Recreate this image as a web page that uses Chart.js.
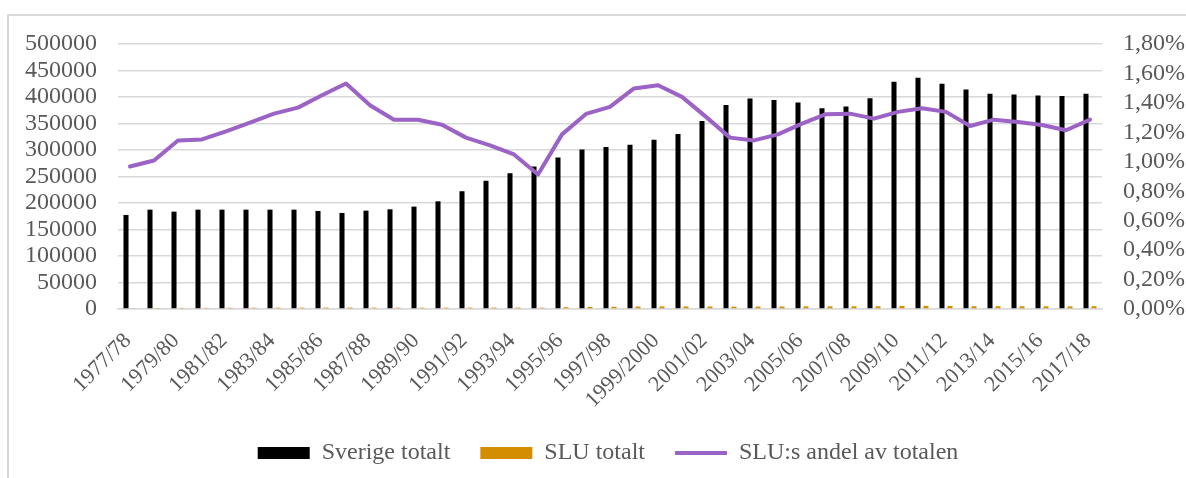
<!DOCTYPE html>
<html>
<head>
<meta charset="utf-8">
<script src="https://cdn.jsdelivr.net/npm/chart.js@4/dist/chart.umd.min.js"></script>
<style>
html,body{margin:0;padding:0;background:#fff;overflow:hidden;}
#wrap{position:relative;width:1186px;height:478px;}
#frame{position:absolute;left:7px;top:14px;width:1300px;height:600px;border-left:2px solid #d9d9d9;border-top:2px solid #d9d9d9;}
canvas{position:absolute;left:0;top:0;}
</style>
</head>
<body>
<div id="wrap"><div id="frame"></div><canvas id="c" width="1186" height="478"></canvas></div>
<script>
const categories = ["1977/78","1978/79","1979/80","1980/81","1981/82","1982/83","1983/84","1984/85","1985/86","1986/87","1987/88","1988/89","1989/90","1990/91","1991/92","1992/93","1993/94","1994/95","1995/96","1996/97","1997/98","1998/99","1999/2000","2000/01","2001/02","2002/03","2003/04","2004/05","2005/06","2006/07","2007/08","2008/09","2009/10","2010/11","2011/12","2012/13","2013/14","2014/15","2015/16","2016/17","2017/18"];
const sverigeTotalt = [177500,187500,183700,187500,187500,187500,187500,187500,185000,181200,185600,188100,193200,203200,222200,241800,256300,269000,286000,301100,305500,310000,319500,330100,354700,385100,397100,394500,389500,378800,382000,397700,428600,436200,424800,414100,406000,404700,402800,402100,406000];
const sluTotalt = [1720,1890,2100,2160,2260,2370,2490,2570,2690,2780,2570,2420,2480,2540,2590,2690,2690,2460,3390,3990,4190,4640,4860,4760,4630,4480,4550,4680,4900,5010,5070,5140,5740,5950,5690,5150,5220,5140,5040,4880,5220];
const sluAndel = [0.968,1.009,1.145,1.152,1.207,1.266,1.327,1.368,1.452,1.532,1.384,1.286,1.286,1.252,1.164,1.111,1.050,0.914,1.186,1.325,1.373,1.498,1.520,1.441,1.305,1.164,1.145,1.186,1.259,1.323,1.327,1.293,1.339,1.364,1.339,1.243,1.286,1.270,1.250,1.214,1.286];
const leftTicksMax = 500000, leftStep = 50000;
const rightTicksMax = 1.8, rightStep = 0.2;

const FAM = "'Liberation Serif', 'Times New Roman', serif";
const FONT = {family: FAM, size: 24};
const XFONT = {family: FAM, size: 22};
const TXT = '#595959';
const GRID = '#d9d9d9';

const legendShift = {
  id:'legendShift',
  afterLayout(chart){ if (chart.legend) { chart.legend.left += 30; } }
};

new Chart(document.getElementById('c'), {
  data: {
    labels: categories,
    datasets: [
      {type:'bar', label:'Sverige totalt', data: sverigeTotalt, backgroundColor:'#000000', yAxisID:'y', order:1,
       categoryPercentage:0.667, barPercentage:0.63, pointStyle:'rect'},
      {type:'bar', label:'SLU totalt', data: sluTotalt, backgroundColor:'#D58D00', yAxisID:'y', order:2,
       categoryPercentage:0.667, barPercentage:0.63, pointStyle:'rect'},
      {type:'line', label:'SLU:s andel av totalen', data: sluAndel, borderColor:'#9B63C5', backgroundColor:'#9B63C5',
       borderWidth:4, pointRadius:0, tension:0, borderJoinStyle:'round', borderCapStyle:'round', yAxisID:'y1', order:0, pointStyle:'line'}
    ]
  },
  plugins:[legendShift],
  options: {
    responsive:false, animation:false,
    layout:{padding:{top:44, left:0, right:0, bottom:3}},
    plugins:{
      tooltip:{enabled:false},
      legend:{
        position:'bottom',
        labels:{font:FONT, color:TXT, usePointStyle:true, pointStyleWidth:52, boxWidth:52, boxHeight:12, padding:30,
          sort:(a,b)=>a.datasetIndex-b.datasetIndex}
      }
    },
    scales:{
      x:{
        grid:{display:false, drawTicks:false},
        border:{display:true, color:GRID, width:1.5},
        ticks:{font:XFONT, color:TXT, autoSkip:false, minRotation:45, maxRotation:45, padding:19, labelOffset:-2,
          callback:(v,i)=> i%2===0 ? categories[i] : ''},
        afterFit:(s)=>{s.height=102;}
      },
      y:{
        position:'left', min:0, max:leftTicksMax,
        ticks:{stepSize:leftStep, autoSkip:false, font:FONT, color:TXT, padding:21, callback:(v)=>String(v)},
        grid:{color:GRID, lineWidth:1.5, drawTicks:false},
        border:{display:false},
        afterFit:(s)=>{s.width=118;}
      },
      y1:{
        position:'right', min:0, max:rightTicksMax,
        ticks:{stepSize:rightStep, autoSkip:false, font:FONT, color:TXT, padding:21, callback:(v)=>v.toFixed(2).replace('.',',')+'%'},
        grid:{display:false, drawTicks:false},
        border:{display:false},
        afterFit:(s)=>{s.width=84;}
      }
    }
  }
});
</script>
</body>
</html>
